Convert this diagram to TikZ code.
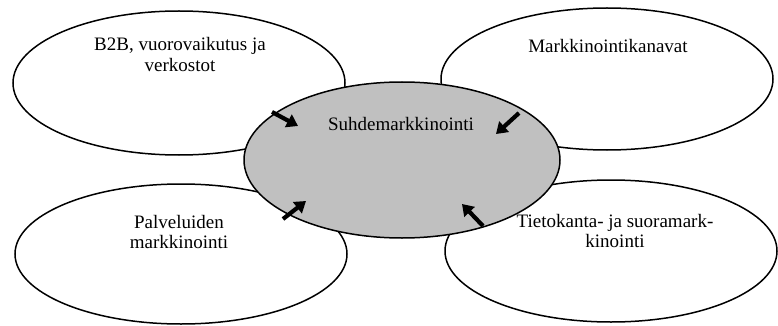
\documentclass[tikz,border=0pt]{standalone}
\usepackage{fontspec}
\setmainfont{Liberation Serif}
\usetikzlibrary{shapes.geometric,arrows.meta}
\definecolor{hubgray}{RGB}{192,192,192}
\tikzset{
  outer/.style={draw=black, line width=1.5pt, fill=white, ellipse, inner sep=0pt},
  hub/.style={draw=black, line width=1.5pt, fill=hubgray, ellipse, inner sep=0pt},
  lbl/.style={anchor=base, align=center, inner sep=0pt, font=\fontsize{19}{20.5}\selectfont},
  inarrow/.style={line width=4.2pt, -{Triangle[length=11pt,width=14pt]}, black}
}
\begin{document}
\begin{tikzpicture}[x=1pt,y=-1pt]
\useasboundingbox (0,0) rectangle (778,326);
\node[outer, minimum width=332pt, minimum height=144pt] (tl) at (179,83) {};
\node[outer, minimum width=332pt, minimum height=142pt] (tr) at (607,79) {};
\node[outer, minimum width=332pt, minimum height=140pt] (bl) at (181,254) {};
\node[outer, minimum width=332pt, minimum height=142pt] (br) at (611,251) {};
\node[hub, minimum width=316pt, minimum height=156pt] (hub) at (402,160) {};
\coordinate (a1s) at (272,112); \coordinate (a1e) at (298,126);
\coordinate (a2s) at (519,113); \coordinate (a2e) at (496,134);
\coordinate (a3s) at (283,219); \coordinate (a3e) at (306,201);
\coordinate (a4s) at (483,226); \coordinate (a4e) at (462,204);
\draw[inarrow] (a1s) -- (a1e);
\draw[inarrow] (a2s) -- (a2e);
\draw[inarrow] (a3s) -- (a3e);
\draw[inarrow] (a4s) -- (a4e);
\node[lbl] (tltext) at (180,71.5) {B2B, vuorovaikutus ja\\verkostot};
\node[lbl] (trtext) at (608,53) {Markkinointikanavat};
\node[lbl] (hubtext) at (401,130) {Suhdemarkkinointi};
\node[lbl] (bltext) at (179,248.5) {Palveluiden\\markkinointi};
\node[lbl] (brtext) at (615,247.5) {Tietokanta- ja suoramark-\\kinointi};
\end{tikzpicture}
\end{document}
